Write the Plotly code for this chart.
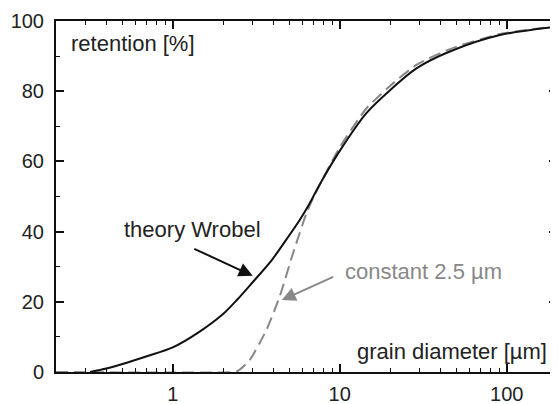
import plotly.graph_objects as go

# grain diameter [µm] and retention [%]
wrobel_d = [0.32, 0.4, 0.5, 0.7, 1.0, 1.45, 2.0, 2.42, 3.0, 3.92, 4.8, 5.76, 6.6, 7.6, 10, 14.4, 20, 28.8, 45.6, 91, 200]
wrobel_r = [0, 1, 2.3, 4.5, 7, 11.5, 16.5, 20.5, 25.5, 31.9, 37.8, 43.3, 48.0, 53.5, 63, 73.7, 80.3, 86.5, 91.3, 96, 98.4]

const_d = [0.2, 2.3, 2.45, 2.89, 3.64, 4.37, 5.25, 6.32, 7.0, 10, 14.4, 20, 28.8, 45.6, 91, 200]
const_r = [0, 0, 0.3, 3.4, 12, 21.5, 33.8, 45.2, 50, 64, 75, 81.5, 87.5, 92, 96.3, 98.5]

x_major = [1, 10, 100]
x_major_text = ["1", "10", "100"]
x_minor = [m * 10 ** e for e in (-1, 0, 1, 2) for m in range(2, 10) if 0.2 <= m * 10 ** e <= 200]
y_major = [0, 20, 40, 60, 80, 100]
y_minor = [10, 30, 50, 70, 90]

FONT = "Liberation Sans, Arial, sans-serif"

fig = go.Figure()
fig.add_trace(go.Scatter(x=const_d, y=const_r, mode="lines", line=dict(color="#888888", width=2, dash="12px,6px", shape="spline", smoothing=0.6), showlegend=False))
fig.add_trace(go.Scatter(x=wrobel_d, y=wrobel_r, mode="lines", line=dict(color="#111111", width=2, shape="spline", smoothing=0.8), showlegend=False))

axis_common = dict(showline=True, linecolor="#111111", linewidth=2, mirror="ticks", ticks="inside",
                   tickcolor="#111111", tickwidth=1.5, ticklen=8, showgrid=False, zeroline=False,
                   automargin=False, tickfont=dict(family=FONT, size=20, color="#222222"))

fig.update_xaxes(type="log", range=[-0.699, 2.301], tickmode="array", tickvals=x_major, ticktext=x_major_text,
                 minor=dict(ticks="inside", ticklen=4, tickvals=x_minor, tickcolor="#111111", tickwidth=1),
                 ticklabelstandoff=3, **axis_common)
fig.update_yaxes(range=[0, 100], tickmode="array", tickvals=y_major,
                 minor=dict(ticks="inside", ticklen=4, tickvals=y_minor, tickcolor="#111111", tickwidth=1),
                 ticklabelstandoff=6, **axis_common)

ann_font = dict(family=FONT, size=22, color="#222222")
gray_font = dict(family=FONT, size=22, color="#888888")
fig.add_annotation(text="retention [%]", xref="paper", yref="paper", x=0.026, y=0.937, xanchor="left", yanchor="middle", showarrow=False, font=ann_font)
fig.add_annotation(text="grain diameter [µm]", xref="paper", yref="paper", x=0.985, y=0.057, xanchor="right", yanchor="middle", showarrow=False, font=ann_font)
fig.add_annotation(text="theory Wrobel", x=0.12, y=40.5, xanchor="center", yanchor="middle", showarrow=False, font=ann_font)
fig.add_annotation(text="constant 2.5 µm", x=1.50, y=28.5, xanchor="center", yanchor="middle", showarrow=False, font=gray_font)
fig.add_annotation(text="", x=0.479, y=27.4, ax=0.12, ay=35.3, axref="x", ayref="y", showarrow=True,
                   arrowhead=2, arrowsize=1.4, arrowwidth=2, arrowcolor="#111111")
fig.add_annotation(text="", x=0.653, y=20.5, ax=0.97, ay=27.3, axref="x", ayref="y", showarrow=True,
                   arrowhead=2, arrowsize=1.4, arrowwidth=2, arrowcolor="#888888")

# the page adds an 8px body margin, so the figure is sized to fit the 558x404 window
fig.update_layout(width=550, height=396, margin=dict(l=48, r=1, t=13, b=32),
                  paper_bgcolor="white", plot_bgcolor="white", showlegend=False)

fig.write_html("out.html")
